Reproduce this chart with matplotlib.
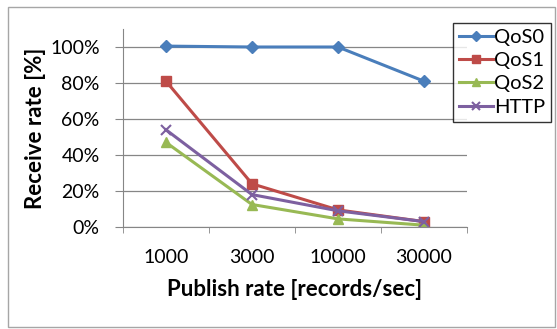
import matplotlib
matplotlib.use('Agg')
import matplotlib.pyplot as plt
from matplotlib.patches import Rectangle
from matplotlib.ticker import FixedLocator, PercentFormatter

categories = ['1000', '3000', '10000', '30000']
qos0 = [100.5, 100, 100, 81]
qos1 = [81, 24, 9.5, 3]
qos2 = [47, 12.5, 4.5, 1]
http = [54, 18, 9, 3]
yticks = [0, 20, 40, 60, 80, 100]

plt.rcParams['font.family'] = ['Lato', 'DejaVu Sans']

fig = plt.figure(figsize=(5.57, 3.29), dpi=100)
ax = fig.add_axes([123 / 557, 1 - 227 / 329, 344 / 557, 198 / 329])

x = list(range(len(categories)))
series = [
    ('QoS0', qos0, '#4A7EBB', 'D', 6.5),
    ('QoS1', qos1, '#BE4B48', 's', 7.2),
    ('QoS2', qos2, '#98B954', '^', 7.5),
    ('HTTP', http, '#7D60A0', 'x', 7.5),
]
for name, vals, color, marker, ms in series:
    ax.plot(x, vals, color=color, marker=marker, markersize=ms, linewidth=2.2,
            markeredgewidth=1.5 if marker == 'x' else 1, label=name)

ax.set_xlim(-0.5, len(categories) - 0.5)
ax.set_ylim(0, 110)
ax.yaxis.set_major_locator(FixedLocator(yticks))
ax.yaxis.set_major_formatter(PercentFormatter(decimals=0))
ax.set_xticks(x)
ax.set_xticklabels(categories)
ax.set_xticks([i - 0.5 for i in range(len(categories) + 1)], minor=True)
ax.tick_params(axis='x', which='major', length=0, labelsize=14, pad=16)
ax.tick_params(axis='x', which='minor', length=4, color='#868686', direction='out')
ax.tick_params(axis='y', length=5.8, color='#868686', labelsize=14, pad=11)
ax.grid(True, axis='y', color='#868686', linewidth=0.9)
ax.set_axisbelow(True)
for side in ['top', 'right']:
    ax.spines[side].set_visible(False)
for side in ['left', 'bottom']:
    ax.spines[side].set_color('#868686')

ax.set_xlabel('Publish rate [records/sec]', fontsize=16, fontweight='bold', labelpad=9)
ax.set_ylabel('Receive rate [%]', fontsize=16, fontweight='bold', labelpad=3)

leg = ax.legend(loc='upper left', bbox_to_anchor=(453 / 557, 1 - 23 / 329),
                bbox_transform=fig.transFigure, fontsize=14.5, frameon=True,
                fancybox=False, borderpad=0.3, handlelength=1.7, markerscale=0.85,
                handletextpad=0.05, labelspacing=0.3, borderaxespad=0)
leg.get_frame().set_edgecolor('black')
leg.get_frame().set_linewidth(1)

fig.patches.append(Rectangle((8 / 557, 2 / 329), 547 / 557, 320 / 329,
                             transform=fig.transFigure, fill=False,
                             edgecolor='#a6a6a6', linewidth=1))

fig.savefig('out.png', dpi=100)
